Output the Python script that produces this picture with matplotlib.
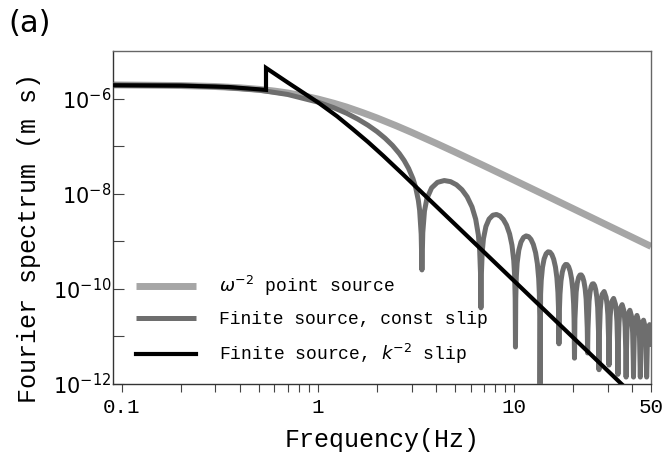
import matplotlib
matplotlib.use("Agg")
import matplotlib.pyplot as plt
from matplotlib.ticker import FixedLocator, FixedFormatter, NullFormatter

# omega^-2 point source (light gray)
point_freq = [0.09, 0.2, 0.3, 0.4, 0.5, 0.6, 0.7, 0.85, 1.0, 1.2, 1.4, 1.7, 2.0, 2.5, 3.0,
              4.0, 5.0, 7.0, 10.0, 15.0, 20.0, 30.0, 50.0]
point_vals = [1.934e-6, 1.875e-6, 1.789e-6, 1.681e-6, 1.56e-6, 1.434e-6, 1.309e-6, 1.132e-6,
              9.75e-7, 7.99e-7, 6.61e-7, 5.01e-7, 3.9e-7, 2.69e-7, 1.95e-7, 1.147e-7, 7.5e-8,
              3.9e-8, 1.93e-8, 8.63e-9, 4.86e-9, 2.16e-9, 7.8e-10]

# finite source, constant slip (dark gray): one list per lobe, each ending at its null
const_lobe_freq = [
    [0.09, 0.2, 0.3, 0.5, 0.7, 1.0, 1.2, 1.4, 1.6, 1.8, 2.0, 2.2, 2.4, 2.6, 2.75, 2.9, 3.05,
     3.15, 3.25, 3.3, 3.36, 3.39],
    [3.424, 3.492, 3.593, 3.797, 4.068, 4.407, 4.746, 5.085, 5.424, 5.763, 6.102, 6.373,
     6.577, 6.678, 6.746, 6.78],
    [6.814, 6.882, 6.983, 7.187, 7.458, 7.797, 8.136, 8.475, 8.814, 9.153, 9.492, 9.763,
     9.967, 10.068, 10.136, 10.17],
    [10.204, 10.272, 10.373, 10.577, 10.848, 11.187, 11.526, 11.865, 12.204, 12.543, 12.882,
     13.153, 13.357, 13.458, 13.526, 13.56],
    [13.662, 13.763, 13.967, 14.238, 14.577, 14.916, 15.255, 15.594, 15.933, 16.272, 16.543,
     16.747, 16.848, 16.95],
    [17.052, 17.153, 17.357, 17.628, 17.967, 18.306, 18.645, 18.984, 19.323, 19.662, 19.933,
     20.137, 20.238, 20.34],
    [20.442, 20.747, 21.018, 21.357, 21.696, 22.035, 22.374, 22.713, 23.052, 23.323, 23.628,
     23.73],
    [23.832, 24.137, 24.408, 24.747, 25.086, 25.425, 25.764, 26.103, 26.442, 26.713, 27.018,
     27.12],
    [27.222, 27.527, 27.798, 28.137, 28.815, 29.493, 29.832, 30.103, 30.408, 30.51],
    [30.612, 30.917, 31.188, 31.527, 32.205, 32.883, 33.222, 33.493, 33.798, 33.90],
    [34.002, 34.307, 34.578, 34.917, 35.595, 36.273, 36.612, 36.883, 37.188, 37.29],
    [37.392, 37.697, 37.968, 38.307, 38.985, 39.663, 40.002, 40.273, 40.578, 40.68],
    [40.782, 41.087, 41.358, 41.697, 42.375, 43.053, 43.392, 43.663, 43.968, 44.07],
    [44.172, 44.477, 44.748, 45.087, 45.765, 46.443, 46.782, 47.053, 47.358, 47.46],
    [47.562, 47.867, 48.138, 48.477, 49.155, 49.833, 50.443],
]
const_lobe_vals = [
    [1.932e-6, 1.864e-6, 1.766e-6, 1.505e-6, 1.219e-6, 8.41e-7, 6.44e-7, 4.905e-7, 3.68e-7,
     2.744e-7, 2.02e-7, 1.461e-7, 1.031e-7, 6.97e-8, 5.00e-8, 3.38e-8, 2.077e-8, 1.346e-8,
     7.25e-9, 4.46e-9, 1.417e-9, 2.5e-10],
    [1.517e-9, 4.30e-9, 7.89e-9, 1.323e-8, 1.732e-8, 1.891e-8, 1.792e-8, 1.541e-8, 1.213e-8,
     8.63e-9, 5.30e-9, 2.92e-9, 1.355e-9, 6.50e-10, 2.105e-10, 4e-11],
    [2.044e-10, 5.95e-10, 1.135e-9, 2.047e-9, 2.929e-9, 3.533e-9, 3.660e-9, 3.409e-9,
     2.885e-9, 2.193e-9, 1.430e-9, 8.24e-10, 3.943e-10, 1.921e-10, 6.28e-11, 6e-12],
    [6.16e-11, 1.810e-10, 3.50e-10, 6.49e-10, 9.61e-10, 1.206e-9, 1.297e-9, 1.251e-9,
     1.094e-9, 8.57e-10, 5.75e-10, 3.38e-10, 1.646e-10, 8.08e-11, 2.655e-11, 1e-13],
    [7.72e-11, 1.504e-10, 2.828e-10, 4.264e-10, 5.47e-10, 6.003e-10, 5.90e-10, 5.256e-10,
     4.19e-10, 2.860e-10, 1.704e-10, 8.37e-11, 4.13e-11, 7e-12],
    [3.98e-11, 7.79e-11, 1.476e-10, 2.250e-10, 2.926e-10, 3.252e-10, 3.237e-10, 2.917e-10,
     2.353e-10, 1.623e-10, 9.75e-11, 4.817e-11, 2.38e-11, 3.5e-12],
    [2.31e-11, 8.65e-11, 1.329e-10, 1.744e-10, 1.955e-10, 1.963e-10, 1.783e-10, 1.450e-10,
     1.008e-10, 6.09e-11, 1.498e-11, 4.5e-12],
    [1.463e-11, 5.51e-11, 8.505e-11, 1.123e-10, 1.268e-10, 1.280e-10, 1.170e-10, 9.57e-11,
     6.689e-11, 4.063e-11, 1.004e-11, 2e-12],
    [9.82e-12, 3.713e-11, 5.757e-11, 7.641e-11, 8.794e-11, 6.635e-11, 4.658e-11, 2.839e-11,
     7.04e-12, 2.5e-12],
    [6.90e-12, 2.621e-11, 4.077e-11, 5.432e-11, 6.299e-11, 4.787e-11, 3.373e-11, 2.061e-11,
     5.13e-12, 1.6e-12],
    [5.04e-12, 1.918e-11, 2.991e-11, 3.998e-11, 4.665e-11, 3.566e-11, 2.520e-11, 1.544e-11,
     3.85e-12, 1.4e-12],
    [3.79e-12, 1.446e-11, 2.260e-11, 3.028e-11, 3.551e-11, 2.728e-11, 1.932e-11, 1.186e-11,
     2.96e-12, 1.4e-12],
    [2.92e-12, 1.117e-11, 1.748e-11, 2.348e-11, 2.765e-11, 2.133e-11, 1.514e-11, 9.30e-12,
     2.33e-12, 1.4e-12],
    [2.30e-12, 8.80e-12, 1.380e-11, 1.857e-11, 2.195e-11, 1.699e-11, 1.208e-11, 7.44e-12,
     1.86e-12, 1.4e-12],
    [1.84e-12, 7.06e-12, 1.109e-11, 1.494e-11, 1.772e-11, 1.376e-11, 6.03e-12],
]

# finite source, k^-2 slip (black)
k2_freq = [0.09, 0.2, 0.35, 0.543, 0.543, 0.7, 1.0, 1.25, 1.5, 1.8, 2.15, 2.7, 3.53, 5.32,
           9.92, 15.3, 25.0, 36.2, 50.0]
k2_vals = [1.9e-6, 1.87e-6, 1.75e-6, 1.52e-6, 4.4e-6, 2.18e-6, 8.3e-7, 4.25e-7, 2.3e-7,
           1.22e-7, 6.3e-8, 2.6e-8, 9.0e-9, 1.78e-9, 1.52e-10, 2.74e-11, 3.94e-12, 9.1e-13,
           2.54e-13]

xtick_vals = [0.1, 1, 10, 50]
xtick_labels = ["0.1", "1", "10", "50"]
xminor_vals = [0.2, 0.3, 0.4, 0.5, 0.6, 0.7, 0.8, 0.9, 2, 3, 4, 5, 6, 7, 8, 9, 20, 30, 40]
ytick_vals = [1e-12, 1e-10, 1e-8, 1e-6]
ytick_labels = [r"$10^{-12}$", r"$10^{-10}$", r"$10^{-8}$", r"$10^{-6}$"]
yminor_vals = [1e-11, 1e-9, 1e-7]

mono = "Liberation Mono"

const_freq = [f for lobe in const_lobe_freq for f in lobe]
const_vals = [v for lobe in const_lobe_vals for v in lobe]

fig = plt.figure(figsize=(6.63, 4.55), dpi=100)
ax = fig.add_axes([0.1704, 0.156, 0.8116, 0.732])

ax.plot(point_freq, point_vals, color="#a6a6a6", lw=5.0, solid_capstyle="butt",
        label=r"$\omega^{-2}$ point source", zorder=2)
ax.plot(const_freq, const_vals, color="#6e6e6e", lw=3.6, solid_capstyle="butt",
        label="Finite source, const slip", zorder=3)
ax.plot(k2_freq, k2_vals, color="black", lw=3.0, solid_joinstyle="miter",
        label=r"Finite source, $k^{-2}$ slip", zorder=4)

ax.set_xscale("log")
ax.set_yscale("log")
ax.set_xlim(0.09, 50)
ax.set_ylim(1e-12, 1e-5)

ax.xaxis.set_major_locator(FixedLocator(xtick_vals))
ax.xaxis.set_major_formatter(FixedFormatter(xtick_labels))
ax.xaxis.set_minor_locator(FixedLocator(xminor_vals))
ax.xaxis.set_minor_formatter(NullFormatter())
ax.yaxis.set_major_locator(FixedLocator(ytick_vals))
ax.yaxis.set_major_formatter(FixedFormatter(ytick_labels))
ax.yaxis.set_minor_locator(FixedLocator(yminor_vals))
ax.yaxis.set_minor_formatter(NullFormatter())

ax.tick_params(axis="x", which="both", direction="out", length=6, width=0.8,
               color="#444444", pad=4, labelsize=15)
ax.tick_params(axis="y", which="both", direction="in", length=8, width=0.8,
               color="#444444", pad=1, labelsize=15)
for lab in ax.get_xticklabels():
    lab.set_family(mono)

for side in ["top", "right"]:
    ax.spines[side].set_color("#666666")
for side in ["left", "bottom"]:
    ax.spines[side].set_color("#333333")
for side in ax.spines:
    ax.spines[side].set_linewidth(1.0)

ax.set_xlabel("Frequency(Hz)", fontsize=18, family=mono, labelpad=8)
ax.set_ylabel("Fourier spectrum (m s)", fontsize=18, family=mono)
ax.yaxis.set_label_coords(-0.134, 0.437)

leg = ax.legend(loc="upper left", bbox_to_anchor=(0.043, 0.331), frameon=False,
                prop={"family": mono, "size": 13}, handlelength=3.3,
                handletextpad=1.27, labelspacing=0.75, borderpad=0, borderaxespad=0)

fig.text(0.012, 0.98, "(a)", fontsize=22, va="top", ha="left")

fig.savefig("out.png", dpi=100)
